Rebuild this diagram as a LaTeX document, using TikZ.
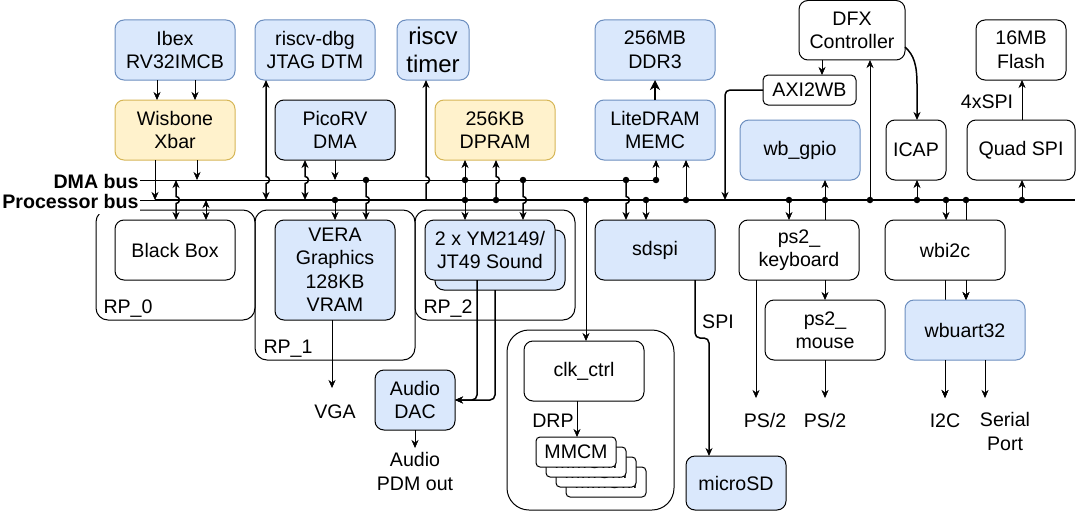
\documentclass[tikz,border=0pt]{standalone}
\usepackage{fontspec}
\setmainfont{Liberation Sans}
\usetikzlibrary{arrows.meta,calc}
\definecolor{cblue}{HTML}{DAE8FC}
\definecolor{cbluedraw}{HTML}{6C8EBF}
\definecolor{cyel}{HTML}{FFF2CC}
\definecolor{cyeldraw}{HTML}{D6B656}
\pgfdeclarelayer{back}
\pgfsetlayers{back,main}
\newcommand\mybox[7]{\node[#2, minimum width={(#5)-(#3)}, minimum height={(#6)-(#4)}] (#1) at ({((#3)+(#5))/2},{((#4)+(#6))/2}) {#7};}
\begin{document}
\begin{tikzpicture}[x=1pt,y=-1pt, line width=1pt,
  every node/.style={font=\fontsize{19.6}{23.5}\selectfont, text=black},
  box/.style={draw, rounded corners=9pt, align=center, inner sep=2pt, outer sep=0pt, line width=1pt},
  bbox/.style={box, fill=cblue, draw=cbluedraw},
  kbox/.style={box, fill=cblue, draw=black},
  ybox/.style={box, fill=cyel, draw=cyeldraw},
  wbox/.style={box, fill=white, draw=black},
  cont/.style={box, fill=none, draw=black, rounded corners=12pt},
  arr/.style={-{Stealth[length=8pt,width=7pt,inset=2.5pt]}},
  dbl/.style={{Stealth[length=8pt,width=7pt,inset=2.5pt]}-{Stealth[length=8pt,width=7pt,inset=2.5pt]}},
  cv/.style={line width=1.5pt},
  txt/.style={inner sep=0pt, align=center},
  dot/.style={circle, fill=black, inner sep=0pt, minimum size=6.5pt}
]
\useasboundingbox (0,0) rectangle (1078,511);

% containers
\mybox{rpz}{cont}{96}{210}{255}{320}{}
\mybox{rpo}{cont}{255}{210}{415}{360}{}
\mybox{rpt}{cont}{415}{210}{575}{320}{}
\mybox{clkc}{cont,rounded corners=22pt}{507}{330}{674}{510}{}
\node[txt, anchor=base west] (rp0) at (103,313) {RP\_0};
\node[txt, anchor=base west] (rp1) at (263,353) {RP\_1};
\node[txt, anchor=base west] (rp2) at (423,313) {RP\_2};

% bus labels
\node[anchor=east, fill=white, inner xsep=1pt, inner ysep=0pt, minimum height=24pt, font=\fontsize{19.6}{23.5}\selectfont\bfseries] (dmalbl) at (140,181) {DMA bus};
\node[anchor=east, fill=white, inner xsep=1pt, inner ysep=0pt, minimum height=25pt, font=\fontsize{19.6}{23.5}\selectfont\bfseries] (plbl) at (140,201) {Processor bus};

% boxes
\mybox{ibex}{bbox}{115}{20}{235}{80}{Ibex\\RV32IMCB}
\mybox{dbg}{bbox}{255}{20}{375}{80}{riscv-dbg\\JTAG DTM}
\mybox{timer}{bbox,font=\fontsize{24}{28.8}\selectfont}{397}{20}{469}{80}{riscv\\timer}
\mybox{ddr}{bbox}{595}{20}{715}{80}{256MB\\DDR3}
\mybox{dfx}{wbox}{799}{0.5}{905}{60}{DFX\\Controller}
\mybox{flash}{wbox}{976}{20}{1066}{80}{16MB\\Flash}
\mybox{xbar}{ybox}{115}{100}{235}{160}{Wisbone\\Xbar}
\mybox{pico}{kbox}{275}{100}{395}{160}{PicoRV\\DMA}
\mybox{dpram}{ybox}{435}{100}{555}{160}{256KB\\DPRAM}
\mybox{lite}{bbox}{595}{100}{715}{160}{LiteDRAM\\MEMC}
\mybox{axi}{wbox,rounded corners=5pt}{763}{75}{856}{105}{AXI2WB}
\mybox{gpio}{bbox}{740}{120}{860}{180}{wb\_gpio}
\mybox{icap}{wbox}{886}{120}{946}{180}{ICAP}
\mybox{qspi}{wbox}{967}{120}{1075}{180}{Quad SPI}
\mybox{bb}{wbox}{115}{220}{235}{280}{Black Box}
\mybox{vera}{kbox}{275}{220}{395}{320}{VERA\\Graphics\\128KB\\VRAM}
\mybox{ymb}{kbox}{435}{230}{565}{290}{}
\mybox{ym}{kbox}{425}{220}{555}{280}{2 x YM2149/\\JT49 Sound}
\mybox{sd}{kbox}{595}{220}{715}{280}{sdspi}
\mybox{kb}{wbox}{739}{220}{859}{280}{ps2\_\\keyboard}
\mybox{mouse}{wbox}{765}{300}{885}{360}{ps2\_\\mouse}
\mybox{i2c}{wbox}{885}{220}{1005}{280}{wbi2c}
\mybox{uart}{bbox}{905}{300}{1025}{360}{wbuart32}
\mybox{dac}{kbox}{375}{370}{455}{430}{Audio\\DAC}
\mybox{clk}{wbox}{524}{341}{644}{401}{clk\_ctrl}
\mybox{mD}{wbox,rounded corners=4pt}{566}{467}{646}{497}{MMCM}
\mybox{mC}{wbox,rounded corners=4pt}{556}{457}{636}{487}{MMCM}
\mybox{mB}{wbox,rounded corners=4pt}{546}{447}{626}{477}{MMCM}
\mybox{mA}{wbox,rounded corners=4pt}{536}{437}{616}{467}{MMCM}
\mybox{msd}{kbox}{686}{456}{786}{510}{microSD}

% free text
\node[txt, anchor=base] (vga) at (335,418) {VGA};
\node[txt] (pdm) at (415,471.6) {Audio\\PDM out};
\node[txt, anchor=base] (ps2a) at (765,427) {PS/2};
\node[txt, anchor=base] (ps2b) at (825,427) {PS/2};
\node[txt, anchor=base] (i2clbl) at (945,427) {I2C};
\node[txt] (serial) at (1005,431.6) {Serial\\Port};
\node[txt, anchor=base] (spilbl) at (718,328) {SPI};
\node[txt, anchor=base] (drp) at (553,427) {DRP};
\node[txt, anchor=base] (qlbl) at (987,108) {4xSPI};

% bus coordinates
\coordinate (dmaL) at (140,180);
\coordinate (dmaR) at (656,180);
\coordinate (pL) at (140,200);
\coordinate (pM) at (155,200);
\coordinate (pR) at (1075,200);
\coordinate (vgaE) at (332,388);
\coordinate (pdmE) at (415,448);
\coordinate (ps2aE) at (756,398);
\coordinate (ps2bE) at (825,398);
\coordinate (i2cE) at (945,398);
\coordinate (serE) at (985,398);

% hidden lines behind wbi2c / wbuart32
\begin{pgfonlayer}{back}
\draw[arr] (966,0 |- pL) -- (966,0 |- uart.north);
\draw[arr] (945,0 |- i2c.south) -- (i2cE);
\end{pgfonlayer}

% buses
\draw (dmaL) -- (dmaR);
\draw (pL) -- (pM);
\draw[line width=2.2pt] (pM) -- (pR);

% Ibex / Xbar
\draw[arr] (157,0 |- ibex.south) -- (157,0 |- xbar.north);
\draw[arr] (195,0 |- ibex.south) -- (195,0 |- xbar.north);
\draw[arr] (155,0 |- xbar.south) -- (pM);
\draw[arr] (197,0 |- xbar.south) -- (197,0 |- dmaL);
% Black box
\draw[dbl,cv] (176,0 |- dmaL) -- (176,196.5) arc[start angle=90,end angle=-90,radius=3.5pt] -- (176,0 |- bb.north);
\draw[dbl] (206,0 |- pL) -- (206,0 |- bb.north);
% riscv-dbg
\draw[dbl,cv] (266,0 |- dbg.south) -- (266,176.5) arc[start angle=90,end angle=-90,radius=3.5pt] -- (266,0 |- pL);
% PicoRV / VERA
\draw[dbl,cv] (305,0 |- pico.south) -- (305,176.5) arc[start angle=90,end angle=-90,radius=3.5pt] -- (305,0 |- pL);
\draw[arr] (335,0 |- pico.south) -- (335,0 |- dmaL);
\draw[arr] (335,0 |- pL) -- (335,0 |- vera.north);
\draw[arr,cv] (366,0 |- dmaL) -- (366,196.5) arc[start angle=90,end angle=-90,radius=3.5pt] -- (366,0 |- vera.north);
% timer
\draw[arr,cv] (426,0 |- pL) -- (426,183.5) arc[start angle=-90,end angle=90,radius=3.5pt] -- (426,0 |- timer.south);
% DPRAM / YM
\draw[arr] (465,0 |- dmaL) -- (465,0 |- dpram.south);
\draw[arr] (465,0 |- dmaL) -- (465,0 |- ym.north);
\draw[arr,cv] (496,0 |- pL) -- (496,183.5) arc[start angle=-90,end angle=90,radius=3.5pt] -- (496,0 |- dpram.south);
\draw[arr,cv] (523,0 |- dmaL) -- (523,196.5) arc[start angle=90,end angle=-90,radius=3.5pt] -- (523,0 |- ym.north);
% clk_ctrl
\draw[arr] (586,0 |- pL) -- (586,0 |- clk.north);
% sdspi
\draw[arr,cv] (626,0 |- dmaL) -- (626,196.5) arc[start angle=90,end angle=-90,radius=3.5pt] -- (626,0 |- sd.north);
\draw[arr] (646,0 |- pL) -- (646,0 |- sd.north);
% LiteDRAM
\draw[arr] (dmaR) -- (656,0 |- lite.south);
\draw[arr] (686,0 |- pL) -- (686,0 |- lite.south);
\draw[line width=2pt, -{Stealth[length=10pt,width=10pt,inset=3pt]}] (lite) -- (ddr);
% DFX / AXI2WB
\draw[arr] (822,0 |- dfx.south) -- (822,0 |- axi.north);
\draw[arr,cv, rounded corners=5pt] (axi.west |- 0,90) -- (725,90) -- (725,0 |- pL);
\draw[arr] (870,0 |- pL) -- (870,0 |- dfx.south);
\draw[arr,cv] (dfx.east |- 0,47) .. controls (914,55) and (917,65) .. (917,85) -- (917,0 |- icap.north);
\draw[arr] (917,0 |- pL) -- (917,0 |- icap.south);
% gpio / ps2
\draw[arr] (825,0 |- kb.north) -- (825,0 |- gpio.south);
\draw[arr] (789,0 |- pL) -- (789,0 |- kb.north);
\draw[arr] (825,0 |- kb.south) -- (825,0 |- mouse.north);
\draw[arr] (756,0 |- kb.south) -- (ps2aE);
\draw[arr] (825,0 |- mouse.south) -- (ps2bE);
% i2c / uart
\draw[arr] (946,0 |- pL) -- (946,0 |- i2c.north);
\draw[arr] (966,0 |- i2c.south) -- (966,0 |- uart.north);
\draw[arr] (945,0 |- uart.south) -- (i2cE);
\draw[arr] (985,0 |- uart.south) -- (serE);
% quad spi / flash
\draw[arr] (1022,0 |- pL) -- (1022,0 |- qspi.south);
\draw[arr] (1022,0 |- qspi.north) -- (1022,0 |- flash.south);
% VERA -> VGA
\draw[arr] (332,0 |- vera.south) -- (vgaE);
% YM -> DAC
\draw[arr,cv, rounded corners=5pt] (477,0 |- ym.south) -- (477,400) -- (dac.east);
\draw[arr,cv, rounded corners=5pt] (495,0 |- ymb.south) -- (495,400) -- (dac.east);
\draw[arr] (dac.south) -- (pdmE);
% sdspi -> microSD
\draw[arr,cv, rounded corners=5pt] (695,0 |- sd.south) -- (695,338) -- (709,338) -- (709,0 |- msd.north);
% clk -> MMCM
\draw[arr] (577,0 |- clk.south) -- (577,0 |- mA.north);

% junction dots
\foreach \x in {366,465,523,626,656}
  \node[dot] at (\x,180) {};
\foreach \x in {335,465,496,586,646,686,789,825,870,917,946,966,1022}
  \node[dot] at (\x,200) {};
\end{tikzpicture}
\end{document}
